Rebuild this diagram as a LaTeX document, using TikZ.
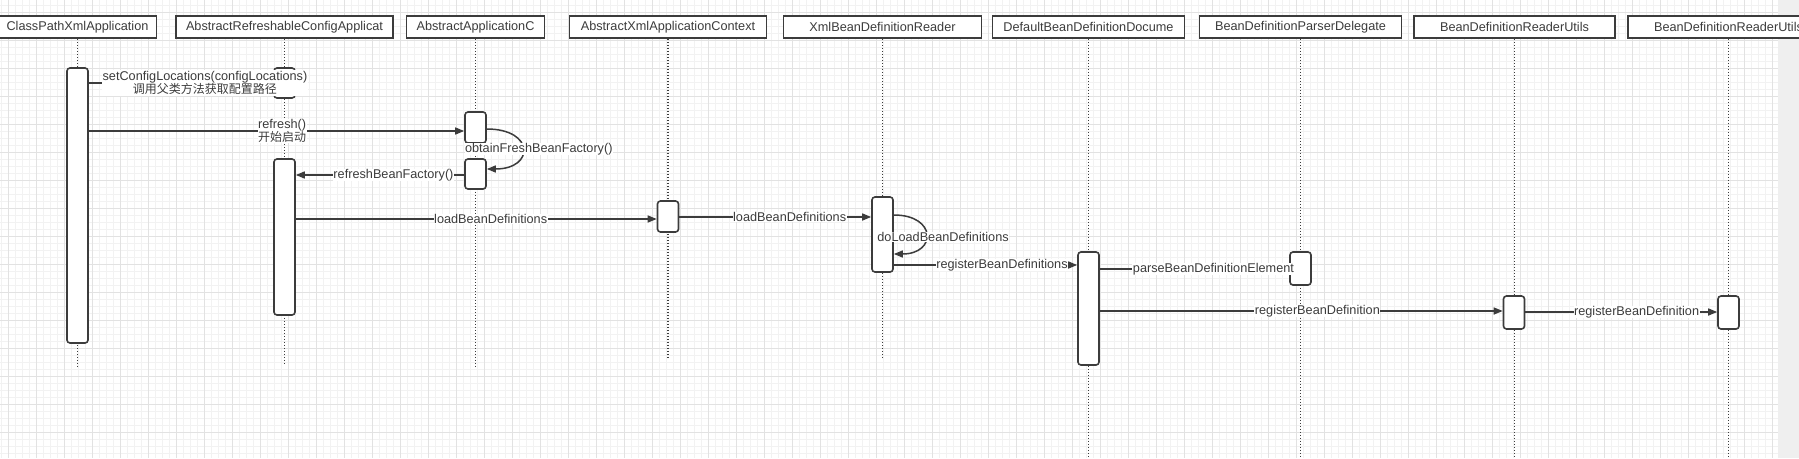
\documentclass[tikz,border=0pt]{standalone}
\usepackage{fontspec}
\setmainfont{Liberation Sans}
\newfontfamily\cjk{Noto Sans CJK SC}
\usetikzlibrary{arrows.meta}
\definecolor{ink}{HTML}{3C3C3C}
\definecolor{gridminor}{HTML}{F2F2F2}
\definecolor{gridmajor}{HTML}{E2E2E2}
\definecolor{pageedge}{HTML}{EFEFEF}
\newcommand{\zh}[1]{{\cjk\fontsize{12}{11}\selectfont #1}}

\begin{document}
\begin{tikzpicture}[x=1pt,y=-1pt,>={Triangle[length=9pt,width=7pt]},
                    every node/.style={font=\fontsize{12.7}{11}\selectfont,text=ink},
                    head/.style={draw=ink,line width=1.6pt,fill=white,minimum height=22pt,inner sep=0pt},
                    act/.style={draw=ink,line width=1.6pt,fill=white,rounded corners=3pt,minimum width=21pt,inner sep=0pt},
                    life/.style={draw=ink,line width=1.3pt,dash pattern=on 1.5pt off 1.5pt},
                    msg/.style={draw=ink,line width=1.5pt,->},
                    lbl/.style={fill=white,inner sep=0.5pt,align=center}]
  \useasboundingbox (0,0) rectangle (1799,458);
  \clip (0,0) rectangle (1799,458);
  % canvas grid
  \fill[white] (0,0) rectangle (1778,458);
  \fill[pageedge] (1778,0) rectangle (1799,458);
  \foreach \gx in {1.5,8.5,...,1778} \draw[gridminor,line width=0.8pt] (\gx,0) -- (\gx,458);
  \foreach \gy in {5,12,...,458} \draw[gridminor,line width=0.8pt] (0,\gy) -- (1778,\gy);
  \foreach \gx in {8.5,36.5,...,1778} \draw[gridmajor,line width=0.8pt] (\gx,0) -- (\gx,458);
  \foreach \gy in {12,40,...,458} \draw[gridmajor,line width=0.8pt] (0,\gy) -- (1778,\gy);

  % lifeline heads
  \node[head,minimum width=158pt] (h1) at (77.5,27) {ClassPathXmlApplication};
  \node[head,minimum width=217pt] (h2) at (284.5,27) {AbstractRefreshableConfigApplicat};
  \node[head,minimum width=138pt] (h3) at (475.5,27) {AbstractApplicationC};
  \node[head,minimum width=197pt] (h4) at (668,27) {AbstractXmlApplicationContext};
  \node[head,minimum width=198pt] (h5) at (882.5,27) {XmlBeanDefinitionReader};
  \node[head,minimum width=192pt] (h6) at (1088.5,27) {DefaultBeanDefinitionDocume};
  \node[head,minimum width=202pt] (h7) at (1300.5,27) {BeanDefinitionParserDelegate};
  \node[head,minimum width=201pt] (h8) at (1514.5,27) {BeanDefinitionReaderUtils};
  \node[head,minimum width=201pt] (h9) at (1728.5,27) {BeanDefinitionReaderUtils};

  \coordinate (e1) at (77.5,367);
  \coordinate (e2) at (284.5,365);
  \coordinate (e3) at (475.5,368);
  \coordinate (e4) at (668,359);
  \coordinate (e5) at (882.5,359);
  \coordinate (e6) at (1088.5,458);
  \coordinate (e7) at (1300.5,458);
  \coordinate (e8) at (1514.5,458);
  \coordinate (e9) at (1728.5,458);
  \foreach \i in {1,...,9} \draw[life] (h\i.south) -- (e\i);

  % activations
  \node[act,minimum height=275pt] (A) at (77.5,205.5) {};
  \node[act,minimum height=30pt] (B) at (284.5,83) {};
  \node[act,minimum height=156pt] (C) at (284.5,237) {};
  \node[act,minimum height=31pt] (D) at (475.5,127.5) {};
  \node[act,minimum height=30pt] (E) at (475.5,174) {};
  \node[act,minimum height=31pt] (F) at (668,216.5) {};
  \node[act,minimum height=75pt] (G) at (882.5,234.5) {};
  \node[act,minimum height=113pt] (H) at (1088.5,308.5) {};
  \node[act,minimum height=33pt] (I) at (1300.5,268.5) {};
  \node[act,minimum height=33pt] (J) at (1514,312.5) {};
  \node[act,minimum height=33pt] (K) at (1728.5,312.5) {};

  % message rows
  \coordinate (r1) at (0,83);
  \coordinate (r2) at (0,131);
  \coordinate (r3) at (0,129);
  \coordinate (r4) at (0,169);
  \coordinate (r5) at (0,175);
  \coordinate (r6) at (0,219);
  \coordinate (r7) at (0,217);
  \coordinate (r8) at (0,215);
  \coordinate (r9) at (0,254);
  \coordinate (r10) at (0,265);
  \coordinate (r11) at (0,269);
  \coordinate (r12) at (0,311);
  \coordinate (r13) at (0,312);

  \draw[msg] (A.east |- r1) -- node[lbl,pos=.63] {setConfigLocations(configLocations)\\\zh{调用父类方法获取配置路径}} (B.west |- r1);
  \draw[msg] (A.east |- r2) -- node[lbl,pos=.515] {refresh()\\\zh{开始启动}} (D.west |- r2);
  \draw[msg] (D.east |- r3) .. controls +(48,0) and +(48,0) .. node[lbl,pos=.5,xshift=16pt] {obtainFreshBeanFactory()} (E.east |- r4);
  \draw[msg] (E.west |- r5) -- node[lbl,pos=.42] {refreshBeanFactory()} (C.east |- r5);
  \draw[msg] (C.east |- r6) -- node[lbl,pos=.54] {loadBeanDefinitions} (F.west |- r6);
  \draw[msg] (F.east |- r7) -- node[lbl,pos=.575] {loadBeanDefinitions} (G.west |- r7);
  \draw[msg] (G.east |- r8) .. controls +(43,0) and +(43,0) .. node[lbl,pos=.5,xshift=17pt,yshift=-2.5pt] {doLoadBeanDefinitions} (G.east |- r9);
  \draw[msg] (G.east |- r10) -- node[lbl,pos=.59] {registerBeanDefinitions} (H.west |- r10);
  \draw[msg] (H.east |- r11) -- node[lbl,pos=.6] {parseBeanDefinitionElement} (I.west |- r11);
  \draw[msg] (H.east |- r12) -- node[lbl,pos=.54] {registerBeanDefinition} (J.west |- r12);
  \draw[msg] (J.east |- r13) -- node[lbl,pos=.58] {registerBeanDefinition} (K.west |- r13);
\end{tikzpicture}
\end{document}
